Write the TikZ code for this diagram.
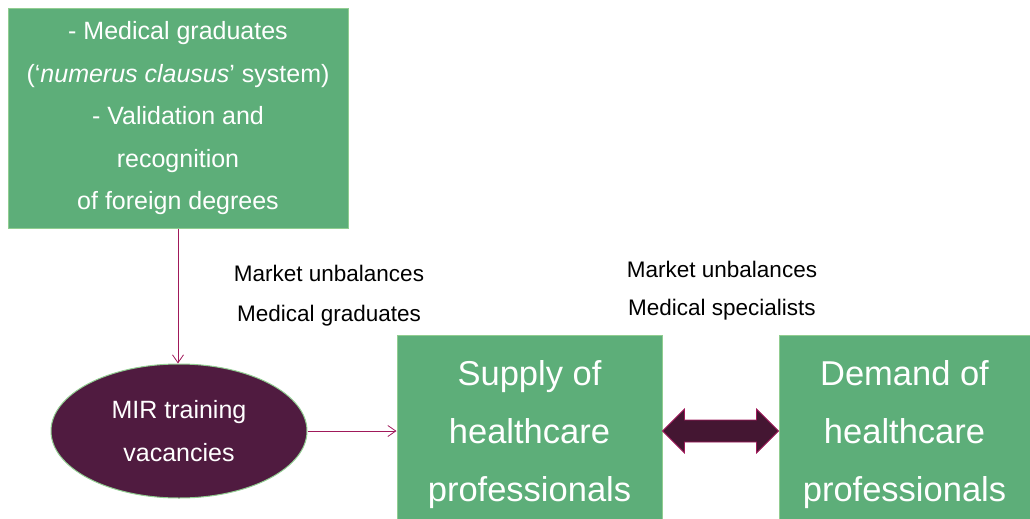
\documentclass[tikz,border=0pt]{standalone}
\usepackage{fontspec}
\setmainfont{Liberation Sans}
\usetikzlibrary{shapes.geometric,arrows.meta}
\definecolor{boxgreen}{RGB}{93,174,121}
\definecolor{edgegreen}{RGB}{145,205,145}
\definecolor{mirpurple}{RGB}{80,27,64}
\definecolor{linkred}{RGB}{160,25,90}
\definecolor{arrowfill}{RGB}{68,22,50}

\begin{document}
\begin{tikzpicture}[x=1pt,y=-1pt,
	greenbox/.style={fill=boxgreen,draw=edgegreen,line width=1pt,text=white,align=center,inner sep=0pt},
	link/.style={draw=linkred,line width=0.8pt,-{Straight Barb[length=8pt,width=11pt]}},
	note/.style={align=center,inner sep=0pt}]
	\useasboundingbox (0,0) rectangle (1030,519);
	\clip (0,0) rectangle (1030,519);

	\node[greenbox,minimum width=340pt,minimum height=219pt,font=\fontsize{25}{42.5}\selectfont] (entry) at (178,118.5)
		{- Medical graduates\\(‘\textit{numerus clausus}’ system)\\- Validation and\\recognition\\of foreign degrees};

	\node[ellipse,fill=mirpurple,draw=edgegreen,line width=1pt,text=white,align=center,inner sep=0pt,
		minimum width=256pt,minimum height=134pt,font=\fontsize{25}{43}\selectfont] (mir) at (179,431)
		{MIR training\\vacancies};

	\node[greenbox,minimum width=265pt,minimum height=199pt,font=\fontsize{34.5}{58}\selectfont] (supply) at (529.5,434.5)
		{Supply of\\healthcare\\professionals};
	\node[greenbox,minimum width=251pt,minimum height=199pt,font=\fontsize{34.5}{58}\selectfont] (demand) at (904.5,434.5)
		{Demand of\\healthcare\\professionals};

	\node[note,font=\fontsize{22.5}{40}\selectfont] (gradgap) at (329,295.4) {Market unbalances\\Medical graduates};
	\node[note,font=\fontsize{22.5}{38}\selectfont] (specgap) at (722,290.4) {Market unbalances\\Medical specialists};

	\draw[link] (entry.south) -- (entry.south |- mir.north);
	\draw[link] (mir.east) -- (mir.east -| supply.west);

	\draw[fill=arrowfill,draw=linkred,line width=0.8pt] (supply.east |- mir.east) -- ++(22,-22) -- ++(0,11) -- ++(72,0) -- ++(0,-11)
		-- (demand.west |- mir.east) -- ++(-22,22) -- ++(0,-11) -- ++(-72,0) -- ++(0,11) -- cycle;
\end{tikzpicture}
\end{document}
